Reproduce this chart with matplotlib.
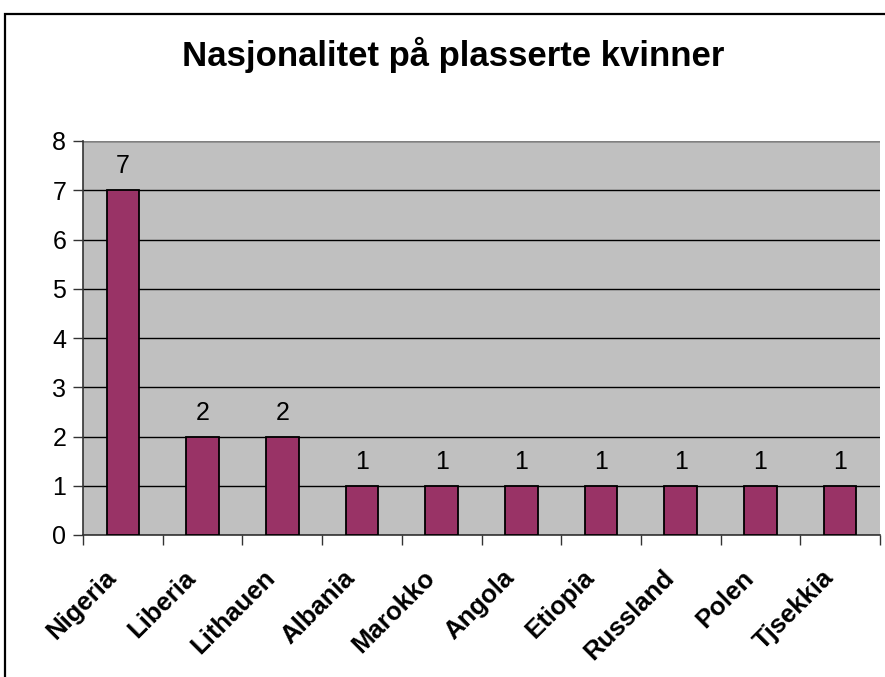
import matplotlib
matplotlib.use("Agg")
from matplotlib import pyplot as plt
from matplotlib.patches import Rectangle
from matplotlib.transforms import ScaledTranslation
import numpy as np

countries = ["Nigeria", "Liberia", "Lithauen", "Albania", "Marokko",
             "Angola", "Etiopia", "Russland", "Polen", "Tjsekkia"]
counts = [7, 2, 2, 1, 1, 1, 1, 1, 1, 1]
y_ticks = [0, 1, 2, 3, 4, 5, 6, 7, 8]

plt.rcParams['font.family'] = ['Liberation Sans', 'DejaVu Sans']

fig = plt.figure(figsize=(8.85, 6.77), dpi=100)
ax = fig.add_axes([83 / 885, 1 - 535 / 677, 797 / 885, 394 / 677])

# outer chart frame (only top and left visible in the crop)
fig.patches.append(Rectangle((5 / 885, -0.5), 2.0, 0.5 + 1 - 14 / 677,
                             transform=fig.transFigure, fill=False,
                             edgecolor='black', lw=1.6))

ax.set_facecolor('#C0C0C0')
x = np.arange(len(countries))
ax.bar(x, counts, width=0.41, color='#993366', edgecolor='black', lw=1.3, zorder=3)

for xi, v in zip(x, counts):
    ax.annotate(str(v), (xi, v), xytext=(0, 8.5), textcoords='offset points',
                ha='center', va='bottom', fontsize=18)

ax.set_xlim(-0.5, len(countries) - 0.5)
ax.set_ylim(0, 8)
ax.set_yticks(y_ticks)
ax.tick_params(axis='y', labelsize=18, length=7, width=1, color='#333333', pad=5)
ax.yaxis.grid(True, color='black', lw=1, zorder=1)

# category labels centred, ticks at boundaries
ax.set_xticks(x)
ax.set_xticklabels(countries, rotation=45, ha='right', va='top',
                   rotation_mode='anchor', fontsize=18.5, fontweight='bold')
ax.tick_params(axis='x', which='major', length=0, pad=22)
shift = ScaledTranslation(-0.19, 0, fig.dpi_scale_trans)
for lbl in ax.get_xticklabels():
    lbl.set_transform(lbl.get_transform() + shift)
ax.set_xticks(np.arange(len(countries) + 1) - 0.5, minor=True)
ax.tick_params(axis='x', which='minor', length=7, width=1, color='#333333')

for s in ['top', 'right']:
    ax.spines[s].set_visible(False)
ax.axhline(8, color='#808080', lw=1, zorder=2)
for s in ['left', 'bottom']:
    ax.spines[s].set_color('#333333')
    ax.spines[s].set_linewidth(1.2)

fig.text(453 / 885, 1 - 66 / 677, "Nasjonalitet på plasserte kvinner",
         ha='center', va='baseline', fontsize=25, fontweight='bold')

fig.savefig("out.png", dpi=100)
